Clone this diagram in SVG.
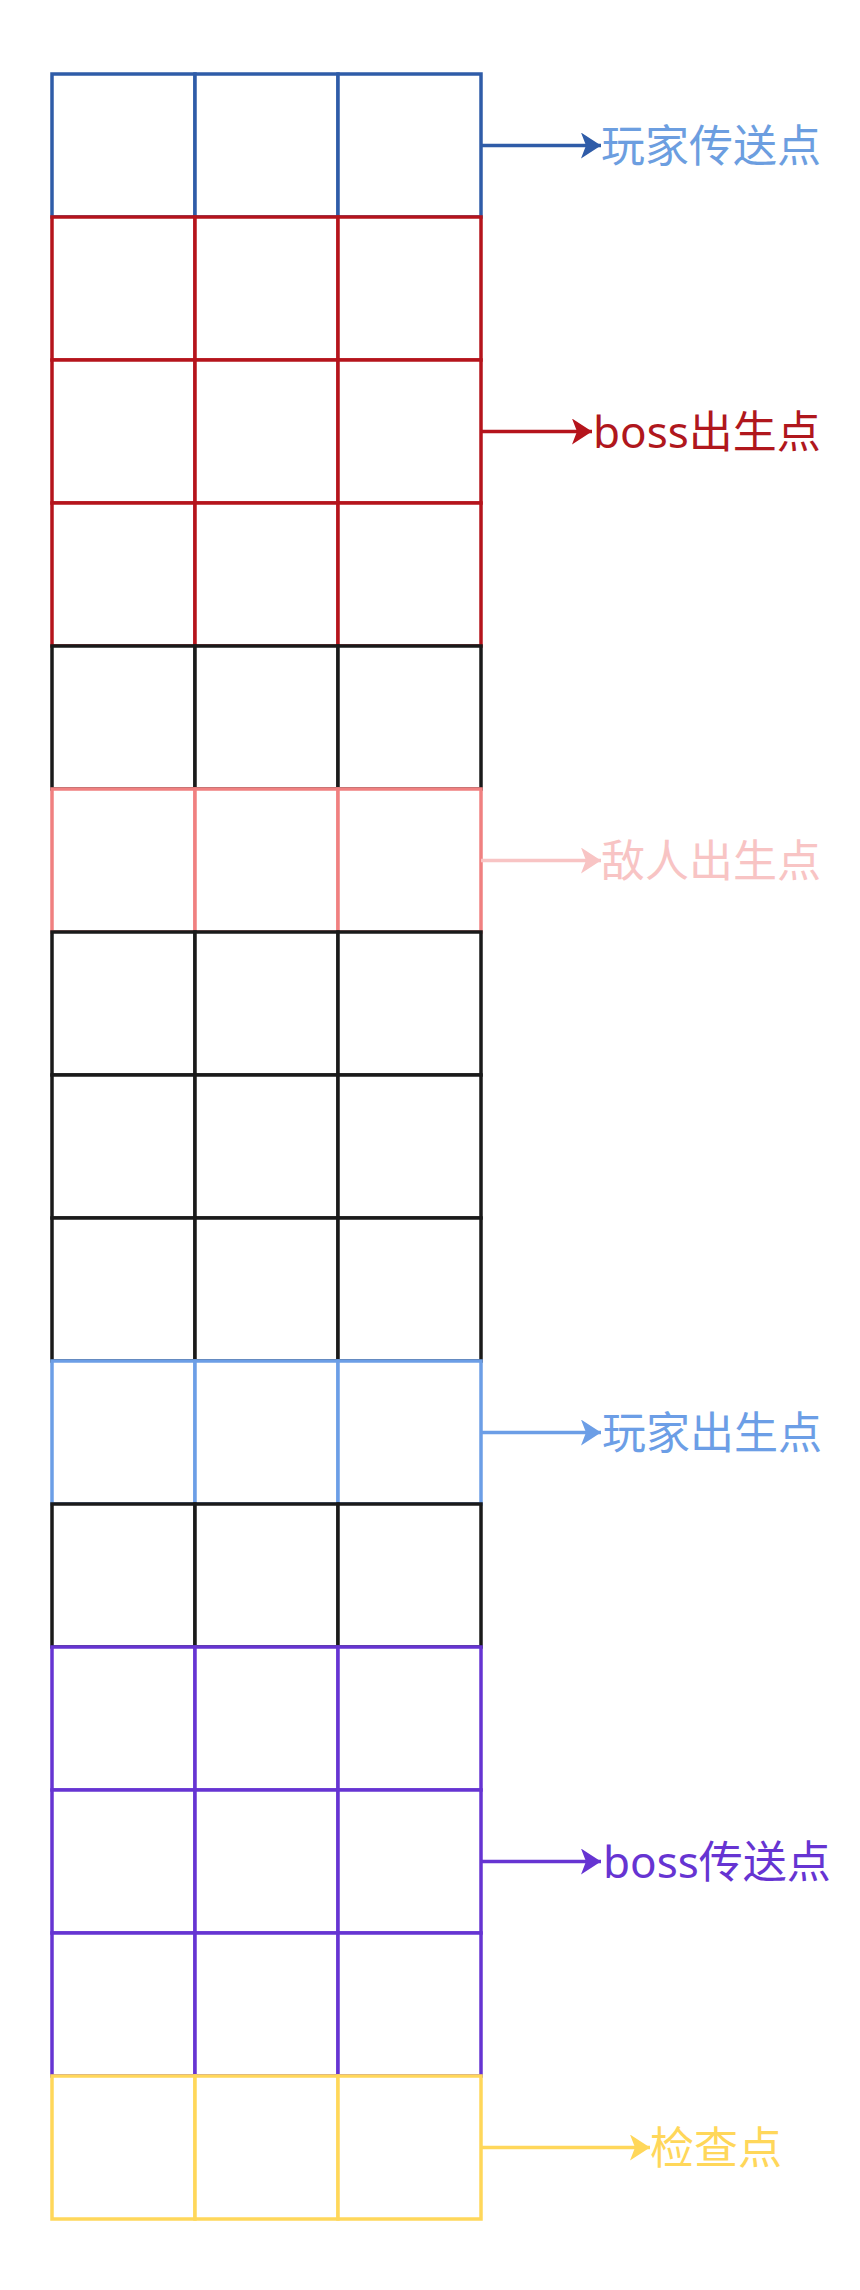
<svg xmlns="http://www.w3.org/2000/svg" width="860" height="2290" viewBox="0 0 860 2290">
<style>
.c{fill:#ffffff;stroke-width:3.5}
.blue{stroke:#2F5CA8}
.red{stroke:#B5141C}
.blk{stroke:#1A1A1A}
.pink{stroke:#F08080}
.lb{stroke:#6C9EE6}
.pur{stroke:#6634D2}
.yel{stroke:#FFD75A}
.lbl{font-family:"Noto Sans","Noto Sans CJK SC",sans-serif;font-size:44px;font-weight:400}
.a{fill:none;stroke-width:3.5}
</style>
<defs>
<marker id="ahBlue" markerUnits="userSpaceOnUse" markerWidth="22" markerHeight="28" refX="20" refY="13" orient="auto"><path d="M0,0 L20,13 L0,26 L5,13 Z" fill="#2F5CA8"/></marker>
<marker id="ahRed" markerUnits="userSpaceOnUse" markerWidth="22" markerHeight="28" refX="20" refY="13" orient="auto"><path d="M0,0 L20,13 L0,26 L5,13 Z" fill="#B5141C"/></marker>
<marker id="ahPink" markerUnits="userSpaceOnUse" markerWidth="22" markerHeight="28" refX="20" refY="13" orient="auto"><path d="M0,0 L20,13 L0,26 L5,13 Z" fill="#F8C4C4"/></marker>
<marker id="ahLb" markerUnits="userSpaceOnUse" markerWidth="22" markerHeight="28" refX="20" refY="13" orient="auto"><path d="M0,0 L20,13 L0,26 L5,13 Z" fill="#6C9EE6"/></marker>
<marker id="ahPur" markerUnits="userSpaceOnUse" markerWidth="22" markerHeight="28" refX="20" refY="13" orient="auto"><path d="M0,0 L20,13 L0,26 L5,13 Z" fill="#6634D2"/></marker>
<marker id="ahYel" markerUnits="userSpaceOnUse" markerWidth="22" markerHeight="28" refX="20" refY="13" orient="auto"><path d="M0,0 L20,13 L0,26 L5,13 Z" fill="#FFD75A"/></marker>
</defs>
<rect width="860" height="2290" fill="#ffffff"/>
<g id="row0"><rect class="c blue" x="52" y="74" width="143" height="143"/><rect class="c blue" x="195" y="74" width="143" height="143"/><rect class="c blue" x="338" y="74" width="143" height="143"/></g>
<g id="row1"><rect class="c red" x="52" y="217" width="143" height="143"/><rect class="c red" x="195" y="217" width="143" height="143"/><rect class="c red" x="338" y="217" width="143" height="143"/></g>
<g id="row2"><rect class="c red" x="52" y="360" width="143" height="143"/><rect class="c red" x="195" y="360" width="143" height="143"/><rect class="c red" x="338" y="360" width="143" height="143"/></g>
<g id="row3"><rect class="c red" x="52" y="503" width="143" height="143"/><rect class="c red" x="195" y="503" width="143" height="143"/><rect class="c red" x="338" y="503" width="143" height="143"/></g>
<g id="row4"><rect class="c blk" x="52" y="646" width="143" height="143"/><rect class="c blk" x="195" y="646" width="143" height="143"/><rect class="c blk" x="338" y="646" width="143" height="143"/></g>
<g id="row5"><rect class="c pink" x="52" y="789" width="143" height="143"/><rect class="c pink" x="195" y="789" width="143" height="143"/><rect class="c pink" x="338" y="789" width="143" height="143"/></g>
<g id="row6"><rect class="c blk" x="52" y="932" width="143" height="143"/><rect class="c blk" x="195" y="932" width="143" height="143"/><rect class="c blk" x="338" y="932" width="143" height="143"/></g>
<g id="row7"><rect class="c blk" x="52" y="1075" width="143" height="143"/><rect class="c blk" x="195" y="1075" width="143" height="143"/><rect class="c blk" x="338" y="1075" width="143" height="143"/></g>
<g id="row8"><rect class="c blk" x="52" y="1218" width="143" height="143"/><rect class="c blk" x="195" y="1218" width="143" height="143"/><rect class="c blk" x="338" y="1218" width="143" height="143"/></g>
<g id="row9"><rect class="c lb" x="52" y="1361" width="143" height="143"/><rect class="c lb" x="195" y="1361" width="143" height="143"/><rect class="c lb" x="338" y="1361" width="143" height="143"/></g>
<g id="row10"><rect class="c blk" x="52" y="1504" width="143" height="143"/><rect class="c blk" x="195" y="1504" width="143" height="143"/><rect class="c blk" x="338" y="1504" width="143" height="143"/></g>
<g id="row11"><rect class="c pur" x="52" y="1647" width="143" height="143"/><rect class="c pur" x="195" y="1647" width="143" height="143"/><rect class="c pur" x="338" y="1647" width="143" height="143"/></g>
<g id="row12"><rect class="c pur" x="52" y="1790" width="143" height="143"/><rect class="c pur" x="195" y="1790" width="143" height="143"/><rect class="c pur" x="338" y="1790" width="143" height="143"/></g>
<g id="row13"><rect class="c pur" x="52" y="1933" width="143" height="143"/><rect class="c pur" x="195" y="1933" width="143" height="143"/><rect class="c pur" x="338" y="1933" width="143" height="143"/></g>
<g id="row14"><rect class="c yel" x="52" y="2076" width="143" height="143"/><rect class="c yel" x="195" y="2076" width="143" height="143"/><rect class="c yel" x="338" y="2076" width="143" height="143"/></g>
<g id="connectors">
<line class="a" x1="481" y1="145.5" x2="601" y2="145.5" stroke="#2F5CA8" marker-end="url(#ahBlue)"/>
<line class="a" x1="481" y1="431.5" x2="592" y2="431.5" stroke="#B5141C" marker-end="url(#ahRed)"/>
<line class="a" x1="481" y1="860.5" x2="601" y2="860.5" stroke="#F8C4C4" marker-end="url(#ahPink)"/>
<line class="a" x1="481" y1="1432.5" x2="601" y2="1432.5" stroke="#6C9EE6" marker-end="url(#ahLb)"/>
<line class="a" x1="481" y1="1861.5" x2="601" y2="1861.5" stroke="#6634D2" marker-end="url(#ahPur)"/>
<line class="a" x1="481" y1="2147.5" x2="650" y2="2147.5" stroke="#FFD75A" marker-end="url(#ahYel)"/>
</g>
<g id="labels">
<text class="lbl" x="601" y="161.5" fill="#6C9EE0">玩家传送点</text>
<text class="lbl" x="593" y="447.5" fill="#B0171D">boss出生点</text>
<text class="lbl" x="601" y="876.5" fill="#F8C4C4">敌人出生点</text>
<text class="lbl" x="602" y="1448.5" fill="#6C9EE6">玩家出生点</text>
<text class="lbl" x="603" y="1877.5" fill="#6634D2">boss传送点</text>
<text class="lbl" x="650" y="2163.5" fill="#FFD75A">检查点</text>
</g>
</svg>
